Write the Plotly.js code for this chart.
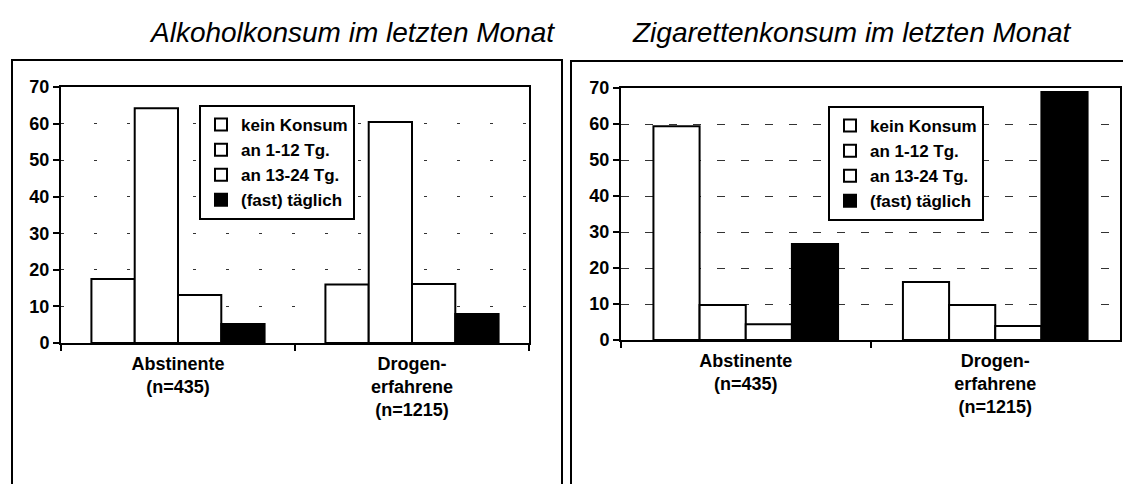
<!DOCTYPE html>
<html>
<head>
<meta charset="utf-8">
<script src="https://cdn.plot.ly/plotly-3.0.1.min.js"></script>
<style>html,body{margin:0;padding:0;background:#fff;}#chart{width:1123px;height:484px;}</style>
</head>
<body>
<div id="chart"></div>
<script>
// ---- data ----
var categories = ['Abstinente<br>(n=435)', 'Drogen-<br>erfahrene<br>(n=1215)'];
var seriesNames = ['kein Konsum', 'an 1-12 Tg.', 'an 13-24 Tg.', '(fast) täglich'];
var alcKein = [17.5, 16.0];
var alc1to12 = [64.2, 60.4];
var alc13to24 = [13.1, 16.1];
var alcTaeglich = [5.2, 7.9];
var cigKein = [59.4, 16.1];
var cig1to12 = [9.7, 9.7];
var cig13to24 = [4.4, 3.9];
var cigTaeglich = [26.7, 68.9];
var titleLeft = 'Alkoholkonsum im letzten Monat';
var titleRight = 'Zigarettenkonsum im letzten Monat';
var yTicks = [0, 10, 20, 30, 40, 50, 60, 70];

// ---- layout helpers ----
var W = 1123, H = 484;
function px(x) { return x / W; }
function py(y) { return 1 - y / H; }
var fontFam = 'Liberation Sans, Arial, sans-serif';
var fills = ['#ffffff', '#ffffff', '#ffffff', '#000000'];

var alcSeries = [alcKein, alc1to12, alc13to24, alcTaeglich];
var cigSeries = [cigKein, cig1to12, cig13to24, cigTaeglich];

var traces = [];
alcSeries.forEach(function (vals, i) {
  traces.push({
    type: 'bar', x: categories, y: vals, name: seriesNames[i],
    xaxis: 'x', yaxis: 'y', legend: 'legend',
    marker: { color: fills[i], line: { color: '#000', width: 2 } },
    hoverinfo: 'y'
  });
});
cigSeries.forEach(function (vals, i) {
  traces.push({
    type: 'bar', x: categories, y: vals, name: seriesNames[i],
    xaxis: 'x2', yaxis: 'y2', legend: 'legend2',
    marker: { color: fills[i], line: { color: '#000', width: 2 } },
    hoverinfo: 'y'
  });
});

function yAxis(domain, anchor, dash) {
  return {
    domain: domain, anchor: anchor, range: [0, 70], tickvals: yTicks, ticktext: yTicks.map(String),
    ticks: 'outside', ticklen: 6, tickwidth: 2, tickcolor: '#000',
    showline: true, linecolor: '#000', linewidth: 2, mirror: true,
    showgrid: true, gridcolor: '#333', gridwidth: 1, griddash: dash,
    zeroline: false, fixedrange: true,
    tickfont: { family: fontFam, size: 18, color: '#000', weight: 'bold' }
  };
}
function xAxis(domain, anchor) {
  return {
    domain: domain, anchor: anchor, type: 'category',
    ticks: 'outside', tickson: 'boundaries', ticklen: 6, tickwidth: 2, tickcolor: '#000',
    showline: true, linecolor: '#000', linewidth: 2, mirror: true,
    showgrid: false, zeroline: false, fixedrange: true, ticklabelstandoff: 3,
    tickfont: { family: fontFam, size: 18, color: '#000', weight: 'bold' }
  };
}
var legendBase = {
  bgcolor: '#fff', bordercolor: '#000', borderwidth: 2,
  xanchor: 'left', yanchor: 'top', traceorder: 'normal',
  font: { family: fontFam, size: 17, color: '#000', weight: 'bold' },
  itemclick: false, itemdoubleclick: false
};

var layout = {
  width: W, height: H,
  margin: { l: 0, r: 0, t: 0, b: 0 },
  paper_bgcolor: '#fff', plot_bgcolor: '#fff',
  barmode: 'group', bargap: 0.26, bargroupgap: 0,
  showlegend: true,
  xaxis: xAxis([px(61), px(529)], 'y'),
  yaxis: yAxis([py(343), py(87)], 'x', '3px,30px'),
  xaxis2: xAxis([px(621), px(1120)], 'y2'),
  yaxis2: yAxis([py(340), py(88)], 'x2', '8px,16px'),
  legend: Object.assign({}, legendBase, { x: px(199), y: py(105) }),
  legend2: Object.assign({}, legendBase, { x: px(828), y: py(106) }),
  annotations: [
    { text: titleLeft, xref: 'paper', yref: 'paper', x: px(352), y: py(32), xanchor: 'center', yanchor: 'middle',
      showarrow: false, font: { family: fontFam, size: 28, color: '#000', style: 'italic' } },
    { text: titleRight, xref: 'paper', yref: 'paper', x: px(852), y: py(32), xanchor: 'center', yanchor: 'middle',
      showarrow: false, font: { family: fontFam, size: 28, color: '#000', style: 'italic' } }
  ],
  shapes: [
    { type: 'rect', xref: 'paper', yref: 'paper', x0: px(12), x1: px(562), y0: py(500), y1: py(60),
      line: { color: '#000', width: 2 }, fillcolor: 'rgba(0,0,0,0)', layer: 'below' },
    { type: 'rect', xref: 'paper', yref: 'paper', x0: px(571), x1: px(1140), y0: py(500), y1: py(61),
      line: { color: '#000', width: 2 }, fillcolor: 'rgba(0,0,0,0)', layer: 'below' }
  ]
};

Plotly.newPlot('chart', traces, layout, { displayModeBar: false, staticPlot: true });
</script>
</body>
</html>
